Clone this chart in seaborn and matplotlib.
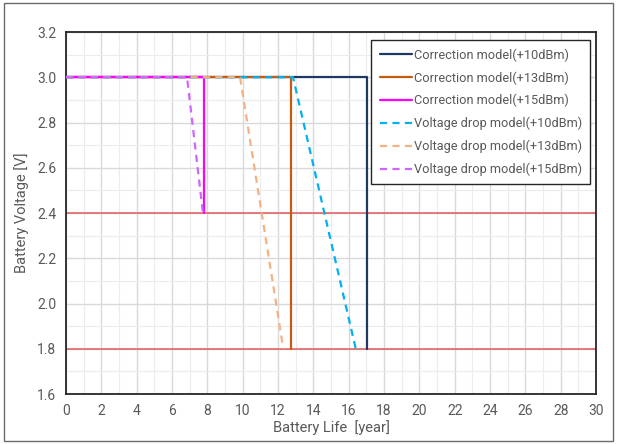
import matplotlib
matplotlib.use("Agg")
import matplotlib.pyplot as plt
from matplotlib.patches import Rectangle
from matplotlib.ticker import MultipleLocator
import numpy as np
import pandas as pd
import seaborn as sns

# Battery life (years) vs. battery voltage (V) for each model and TX power
corr10_x = [0, 17.05, 17.05]
corr10_y = [3.0, 3.0, 1.8]
corr13_x = [0, 12.75, 12.75]
corr13_y = [3.0, 3.0, 1.8]
corr15_x = [0, 7.8, 7.8]
corr15_y = [3.0, 3.0, 2.4]
drop10_x = [0, 12.85, 16.4]
drop10_y = [3.0, 3.0, 1.8]
drop13_x = [0, 9.85, 12.3]
drop13_y = [3.0, 3.0, 1.8]
drop15_x = [0, 6.85, 7.75]
drop15_y = [3.0, 3.0, 2.4]
cutoff_voltages = [2.4, 1.8]

series = [
    ("Correction model(+10dBm)", corr10_x, corr10_y, "#1f3864", "-"),
    ("Correction model(+13dBm)", corr13_x, corr13_y, "#c55a11", "-"),
    ("Correction model(+15dBm)", corr15_x, corr15_y, "#ff00ff", "-"),
    ("Voltage drop model(+10dBm)", drop10_x, drop10_y, "#00b0f0", "--"),
    ("Voltage drop model(+13dBm)", drop13_x, drop13_y, "#f4b183", "--"),
    ("Voltage drop model(+15dBm)", drop15_x, drop15_y, "#cc66ff", "--"),
]

sns.set_style("white")
plt.rcParams["font.family"] = ["Roboto", "DejaVu Sans"]
text_color = "#595959"

fig = plt.figure(figsize=(6.17, 4.44), dpi=100)
ax = fig.add_axes([0.107, 0.1126, 0.859, 0.8153])

# outer chart border
fig.patches.append(Rectangle((0.007, 0.007), 0.986, 0.986, transform=fig.transFigure,
                             fill=False, edgecolor="#6b6b6b", linewidth=1.0))

for v in cutoff_voltages:
    ax.axhline(v, color="#e06666", linewidth=1.2, zorder=2)

for label, xs, ys, color, ls in series:
    df = pd.DataFrame({"x": xs, "y": ys})
    sns.lineplot(data=df, x="x", y="y", ax=ax, sort=False, estimator=None,
                 color=color, linewidth=1.6, linestyle=ls, label=label, zorder=3)
    if ls == "--":
        ax.lines[-1].set_dashes((3.2, 2.4))

ax.set_xlim(0, 30)
ax.set_ylim(1.6, 3.2)
ax.xaxis.set_major_locator(MultipleLocator(2))
ax.xaxis.set_minor_locator(MultipleLocator(1))
ax.yaxis.set_major_locator(MultipleLocator(0.2))
ax.yaxis.set_minor_locator(MultipleLocator(0.1))
ax.yaxis.set_major_formatter(matplotlib.ticker.FormatStrFormatter("%.1f"))
ax.grid(which="major", color="#d9d9d9", linewidth=1.0, zorder=0)
ax.grid(which="minor", color="#ececec", linewidth=0.8, zorder=0)
ax.set_axisbelow(True)
ax.tick_params(which="both", length=0, labelsize=10, labelcolor=text_color, pad=7)
for s in ax.spines.values():
    s.set_color("#262626")
    s.set_linewidth(1.3)

ax.set_xlabel("Battery Life  [year]", fontsize=10.5, color=text_color, labelpad=2)
ax.set_ylabel("Battery Voltage [V]", fontsize=10.5, color=text_color, labelpad=6)

leg = ax.legend(loc="upper right", bbox_to_anchor=(0.989, 0.978), fontsize=9.2,
                frameon=True, fancybox=False, edgecolor="#262626", framealpha=1,
                handlelength=2.5, handletextpad=0.15, borderpad=0.65,
                labelspacing=0.74, borderaxespad=0)
leg.get_frame().set_linewidth(1.0)
for t in leg.get_texts():
    t.set_color(text_color)

fig.savefig("out.png", dpi=100)
